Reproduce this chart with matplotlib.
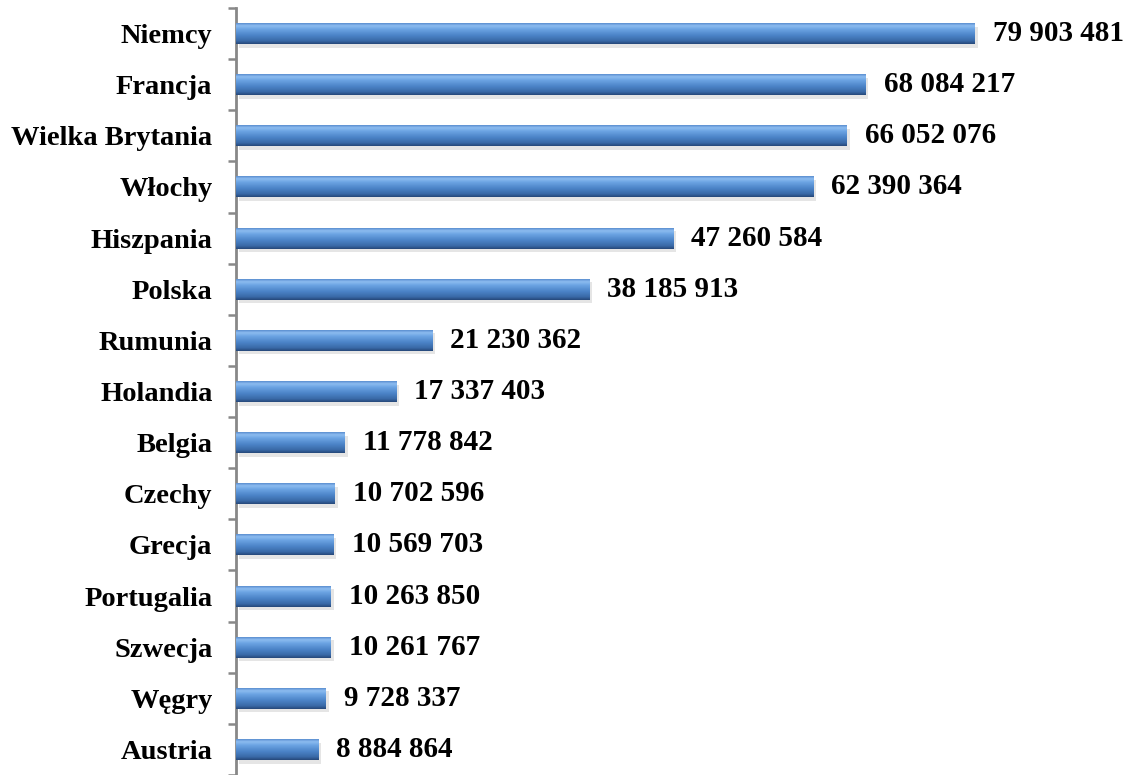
import numpy as np
import matplotlib.pyplot as plt
from matplotlib.colors import LinearSegmentedColormap

# Dane: ludność krajów UE
kraje = ['Niemcy', 'Francja', 'Wielka Brytania', 'Włochy', 'Hiszpania', 'Polska',
         'Rumunia', 'Holandia', 'Belgia', 'Czechy', 'Grecja', 'Portugalia',
         'Szwecja', 'Węgry', 'Austria']
ludnosc = [79903481, 68084217, 66052076, 62390364, 47260584, 38185913,
           21230362, 17337403, 11778842, 10702596, 10569703, 10263850,
           10261767, 9728337, 8884864]

plt.rcParams['font.family'] = ['Liberation Serif', 'DejaVu Serif']

W, H = 1132, 775
fig = plt.figure(figsize=(W / 100, H / 100), dpi=100)
ax = fig.add_axes([236 / W, (H - 777) / H, (W - 236) / W, (777 - 8) / H])

n = len(kraje)
y = np.arange(n)[::-1]
h = 0.41
xmax = 79903481 * (W - 236) / 739.0

# gradient "3D" słupka
cmap = LinearSegmentedColormap.from_list('bar', [
    (0.00, '#5b8fd0'), (0.12, '#8cbcf0'), (0.30, '#6aa2e2'),
    (0.60, '#4a82c6'), (0.85, '#3a6aa8'), (1.00, '#26497a')])
grad = np.linspace(0, 1, 64).reshape(-1, 1)

for yi, v in zip(y, ludnosc):
    # cień
    ax.barh(yi - 0.07, v, height=h, left=0.003 * xmax, color='#000000',
            alpha=0.10, zorder=1)
    bars = ax.barh(yi, v, height=h, color='#4f81bd', zorder=2)
    im = ax.imshow(grad, cmap=cmap, aspect='auto', zorder=3,
                   extent=[0, v, yi - h / 2, yi + h / 2])
    im.set_clip_path(bars[0])
    ax.text(v + 18 / 896 * xmax, yi, f'{v:,}'.replace(',', ' '),
            va='center', ha='left', fontsize=21, fontweight='bold', zorder=4)

ax.set_xlim(0, xmax)
ax.set_ylim(-0.5 - 2 / 51.3, n - 0.5)

ax.set_yticks(y)
ax.set_yticklabels(kraje, fontsize=20.5, fontweight='bold')
ax.set_yticks(np.arange(-0.5, n - 0.4, 1), minor=True)
ax.tick_params(axis='y', which='major', length=0, pad=17)
ax.tick_params(axis='y', which='minor', length=6, width=1.8, color='#888888')
ax.set_xticks([])

for s in ['top', 'right', 'bottom']:
    ax.spines[s].set_visible(False)
ax.spines['left'].set_color('#888888')
ax.spines['left'].set_linewidth(2)
ax.patch.set_alpha(0)

fig.savefig('out.png', dpi=100)
